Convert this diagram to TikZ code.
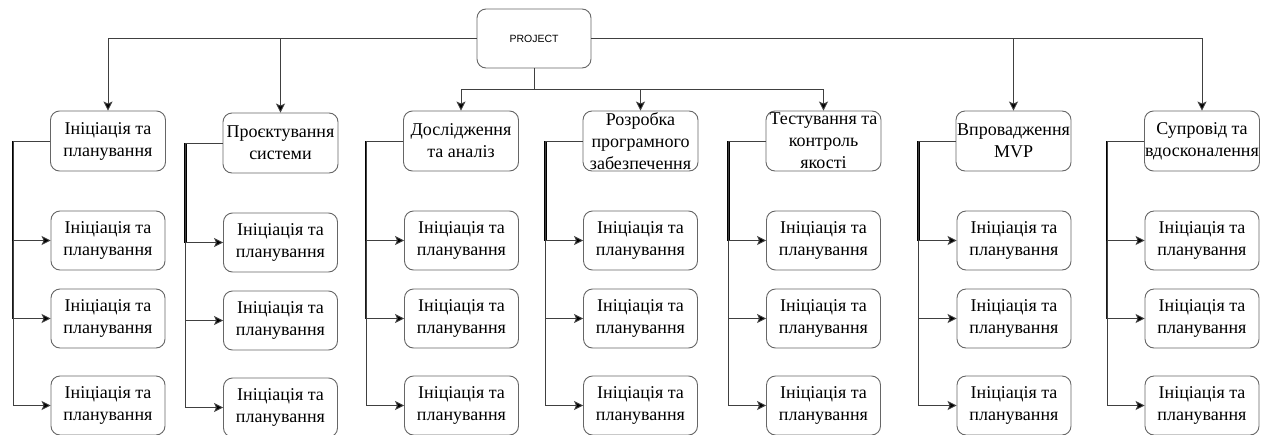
\documentclass[tikz,border=0pt]{standalone}
\usepackage{fontspec}
\setmainfont{Liberation Serif}
\newfontfamily\projfont{Liberation Sans}
\usetikzlibrary{arrows.meta,calc}
\tikzset{
  box/.style={draw=black!60, line width=0.9pt, rounded corners=9pt, fill=white,
    minimum width=115pt, minimum height=60pt, inner sep=0pt, align=center,
    font=\fontsize{18}{22}\selectfont},
  kid/.style={box, minimum width=114pt, minimum height=59pt},
  projbox/.style={box, minimum width=114pt, minimum height=59pt, font=\projfont\fontsize{10.5}{12}\selectfont},
  conn/.style={draw=black!75, line width=0.9pt},
  arr/.style={conn, -{Stealth[length=9pt,width=9pt,inset=2pt,fill=black]}},
  spine1/.style={draw=black, line width=2.6pt},
  spine2/.style={draw=black!90, line width=1.7pt}
}
\begin{document}
\begin{tikzpicture}[x=1pt,y=-1pt]
\useasboundingbox (0,0) rectangle (1271,434);
\fill[white] (0,0) rectangle (1271,434);

\node[projbox] (p) at (534,38.5) {PROJECT};

\node[box] (h1) at (108,141) {Ініціація та\\планування};
\node[box] (h2) at (280.5,143) {Проєктування\\системи};
\node[box] (h3) at (461,141) {Дослідження\\та аналіз};
\node[box] (h4) at (640.5,141) {Розробка\\програмного\\забезпечення};
\node[box] (h5) at (823.5,141) {Тестування та\\контроль\\якості};
\node[box] (h6) at (1013.5,141) {Впровадження\\MVP};
\node[box] (h7) at (1202,141) {Супровід та\\вдосконалення};

% children
\foreach \c/\x/\dy in {1/108/0, 2/280.5/2, 3/461.5/0, 4/640.5/0, 5/823.5/0, 6/1014/0, 7/1202/0}{
  \node[kid] (c\c1) at (\x,240.5+\dy) {Ініціація та\\планування};
  \node[kid] (c\c2) at (\x,318.5+\dy) {Ініціація та\\планування};
  \node[kid] (c\c3) at (\x,405.5+\dy) {Ініціація та\\планування};
}

% top connectors
\coordinate (bus) at (534,89);
\draw[arr] (p.west) -| (h1.north);
\draw[arr] (p.west) -| (h2.north);
\draw[arr] (p.east) -| (h6.north);
\draw[arr] (p.east) -| (h7.north);
\draw[arr] (p.south) -- (bus) -| (h3.north);
\draw[arr] (p.south) -- (bus) -| (h4.north);
\draw[arr] (p.south) -- (bus) -| (h5.north);

% side connectors (overlapping legs look darker where they coincide)
\foreach \c in {1,...,7}{
  \coordinate (s\c) at ($(h\c.west)+(-37,0)$);
  \draw[spine1] (s\c) -- (s\c |- c\c1.west);
  \draw[spine2] (s\c |- c\c1.west) -- (s\c |- c\c2.west);
  \foreach \r in {1,2,3}{
    \draw[arr] (h\c.west) -- (s\c) |- (c\c\r.west);
  }
}
\end{tikzpicture}
\end{document}
